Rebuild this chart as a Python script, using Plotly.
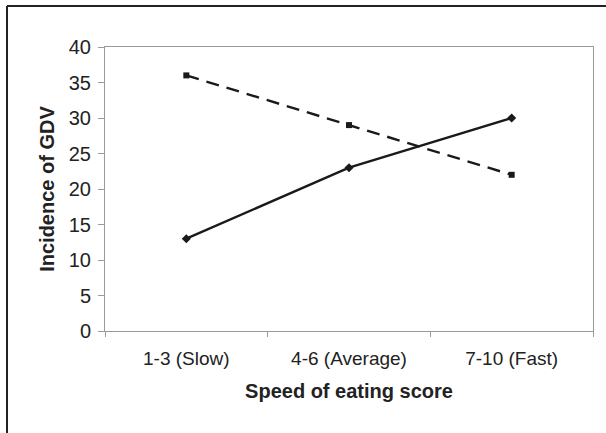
import plotly.graph_objects as go

categories = ["1-3 (Slow)", "4-6 (Average)", "7-10 (Fast)"]
series_solid = [13, 23, 30]
series_dashed = [36, 29, 22]
y_ticks = [0, 5, 10, 15, 20, 25, 30, 35, 40]

fig = go.Figure()
fig.add_trace(go.Scatter(
    x=categories, y=series_solid, mode="lines+markers",
    line=dict(color="#1a1a1a", width=2.4),
    marker=dict(symbol="diamond", size=7, color="#1a1a1a"),
    showlegend=False))
fig.add_trace(go.Scatter(
    x=categories, y=series_dashed, mode="lines+markers",
    line=dict(color="#1a1a1a", width=2.4, dash="13px,8px"),
    marker=dict(symbol="square", size=6, color="#1a1a1a"),
    showlegend=False))

font = "Liberation Sans, Arial, sans-serif"
fig.update_layout(
    width=606, height=433,
    margin=dict(l=105, r=13, t=47, b=102),
    paper_bgcolor="white", plot_bgcolor="white",
    font=dict(family=font, color="#222222"),
    xaxis=dict(
        type="category", range=[-0.5, 2.5],
        showline=True, linecolor="#9a9a9a", linewidth=1, mirror=True,
        ticks="outside", tickson="boundaries", ticklen=5, tickcolor="#9a9a9a",
        ticklabelstandoff=10,
        showgrid=False, tickfont=dict(size=19, family=font, color="#222222"),
        title=dict(text="<b>Speed of eating score</b>", font=dict(size=20, family=font, color="#222222"), standoff=16),
    ),
    yaxis=dict(
        range=[0, 40], tickvals=y_ticks,
        showline=True, linecolor="#9a9a9a", linewidth=1, mirror=True,
        ticks="outside", ticklen=6, tickcolor="#9a9a9a",
        ticklabelstandoff=3,
        showgrid=False, zeroline=False,
        tickfont=dict(size=20, family=font, color="#222222"),
        title=dict(text="<b>Incidence of GDV</b>", font=dict(size=20, family=font, color="#222222"), standoff=8),
    ),
    shapes=[
        dict(type="line", xref="paper", yref="paper", x0=-0.2008, x1=-0.2008, y0=1.1444, y1=-0.6,
             line=dict(color="#222222", width=2)),
        dict(type="line", xref="paper", yref="paper", x0=-0.2008, x1=1.2, y0=1.1444, y1=1.1444,
             line=dict(color="#222222", width=2)),
    ],
)

fig.write_html("out.html", config={"displayModeBar": False},
               post_script="document.body.style.margin='0';")
